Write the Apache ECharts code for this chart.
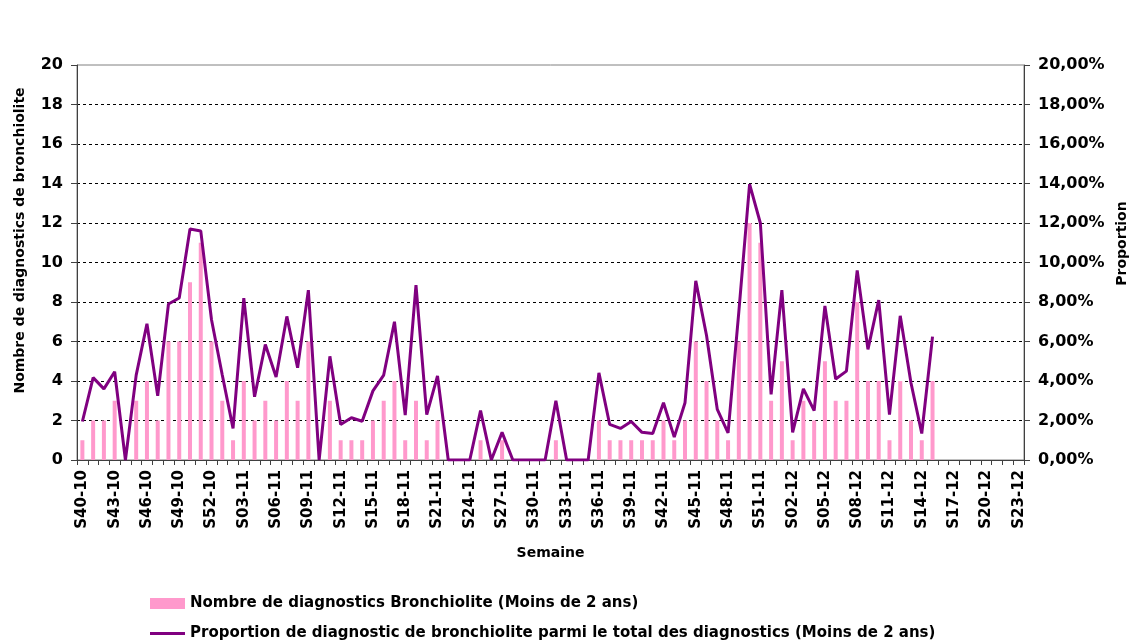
<!DOCTYPE html>
<html><head><meta charset="utf-8">
<script src="https://cdn.jsdelivr.net/npm/echarts@6/dist/echarts.min.js"></script>
<style>html,body{margin:0;padding:0;background:#fff}#c{width:1132px;height:640px}</style>
</head><body><div id="c"></div>
<script>
// Categories: weeks S40-10 .. S23-12
const years = [["10", 40, 52], ["11", 1, 52], ["12", 1, 23]];
const weeks = [];
years.forEach(([y, a, b]) => { for (let w = a; w <= b; w++) weeks.push("S" + String(w).padStart(2, "0") + "-" + y); });

// Number of bronchiolitis diagnoses (< 2 years)
const counts = [1,2,2,3,0,3,4,2,6,6,9,11,6,
  3,1,4,2,3,2,4,3,6,0,3,1,1,1,2,3,4,1,3,1,2,0,0,0,1,0,1,0,0,0,0,1,0,0,0,2,1,1,1,1,1,2,1,2,6,4,2,1,6,12,11,3,
  5,1,3,2,5,3,3,8,4,4,1,4,2,1,4];
// Proportion (%) among all diagnoses (< 2 years)
const proportion = [1.95,4.17,3.6,4.47,0,4.3,6.9,3.25,7.9,8.2,11.7,11.6,7.1,
  4.3,1.6,8.2,3.2,5.85,4.2,7.27,4.67,8.6,0,5.25,1.8,2.14,1.96,3.5,4.3,7.0,2.27,8.85,2.3,4.26,0,0,0,2.5,0,1.4,0,0,0,0,3.0,0,0,0,4.41,1.8,1.6,1.95,1.4,1.34,2.9,1.16,2.9,9.07,6.3,2.56,1.37,7.5,13.97,12.0,3.32,
  8.6,1.4,3.6,2.5,7.8,4.1,4.5,9.6,5.6,8.1,2.3,7.3,3.9,1.34,6.25];

const leftTicks = { min: 0, max: 20, interval: 2 };
const seriesNames = ["Nombre de diagnostics Bronchiolite (Moins de 2 ans)",
  "Proportion de diagnostic de bronchiolite parmi le total des diagnostics (Moins de 2 ans)"];

const FONT = "DejaVu Sans";
const lbl = { fontFamily: FONT, fontSize: 14, fontWeight: 'bold', color: '#000' };
const ylbl = { fontFamily: FONT, fontSize: 16, fontWeight: 'bold', color: '#000' };
const chart = echarts.init(document.getElementById('c'), null, { renderer: 'canvas' });
chart.setOption({
  animation: false,
  textStyle: { fontFamily: FONT },
  grid: { left: 77, right: 108, top: 65, bottom: 180, containLabel: false, outerBoundsMode: 'none',
          show: true, borderColor: '#808080', borderWidth: 1 },
  legend: {
    orient: 'vertical', left: 150, top: 596, height: 120, padding: 0, itemGap: 15, itemWidth: 35, itemHeight: 11,
    textStyle: { fontFamily: FONT, fontSize: 15, fontWeight: 'bold', color: '#000' },
    data: [{ name: seriesNames[0], icon: 'rect' },
           { name: seriesNames[1], icon: 'path://M0,0 L35,0 L35,3 L0,3 Z' }]
  },
  xAxis: {
    type: 'category', data: weeks, boundaryGap: true,
    name: 'Semaine', nameLocation: 'middle', nameGap: 86,
    nameTextStyle: lbl,
    axisLine: { lineStyle: { color: '#404040', width: 1 } },
    axisTick: { show: true, interval: 0, length: 5, lineStyle: { color: '#404040' } },
    axisLabel: Object.assign({ interval: 2, rotate: 90, margin: 10 }, lbl, { fontSize: 15 }),
    splitLine: { show: false }
  },
  yAxis: [{
    type: 'value', min: leftTicks.min, max: leftTicks.max, interval: leftTicks.interval,
    name: 'Nombre de diagnostics de bronchiolite', nameLocation: 'middle', nameGap: 50,
    nameTextStyle: Object.assign({ padding: [0, 0, 0, 44] }, lbl),
    axisLine: { show: true, lineStyle: { color: '#404040' } },
    axisTick: { show: true, length: 6, lineStyle: { color: '#404040' } },
    axisLabel: Object.assign({ margin: 14 }, ylbl),
    splitLine: { show: true, showMinLine: false, showMaxLine: false, lineStyle: { color: '#000', type: [3, 3], width: 1 } }
  }, {
    type: 'value', min: leftTicks.min, max: leftTicks.max, interval: leftTicks.interval,
    name: 'Proportion', nameLocation: 'middle', nameGap: 87, nameRotate: 90,
    nameTextStyle: Object.assign({ padding: [0, 0, 0, 38] }, lbl),
    axisLine: { show: true, lineStyle: { color: '#404040' } },
    axisTick: { show: true, length: 6, lineStyle: { color: '#404040' } },
    axisLabel: Object.assign({ margin: 14, formatter: v => v.toFixed(2).replace('.', ',') + '%' }, ylbl),
    splitLine: { show: false }
  }],
  series: [{
    name: seriesNames[0], type: 'bar', data: counts, barWidth: 4, yAxisIndex: 0,
    itemStyle: { color: '#ff99cc' }
  }, {
    name: seriesNames[1], type: 'line', data: proportion, yAxisIndex: 1,
    symbol: 'none', lineStyle: { color: '#800080', width: 3 }, itemStyle: { color: '#800080' }
  }]
});
</script></body></html>
